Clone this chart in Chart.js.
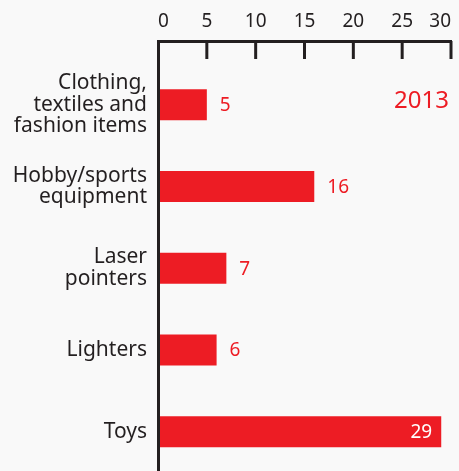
<!DOCTYPE html>
<html>
<head>
<meta charset="utf-8">
<script src="https://cdn.jsdelivr.net/npm/chart.js@4"></script>
<style>
  html, body { margin: 0; padding: 0; background: #f9f9f9; overflow: hidden; }
  canvas { display: block; }
</style>
</head>
<body>
<canvas id="chart" width="459" height="471"></canvas>
<script>
// Seized goods by category
const categories = [
  ['Clothing,', 'textiles and', 'fashion items'],
  ['Hobby/sports', 'equipment'],
  ['Laser', 'pointers'],
  ['Lighters'],
  ['Toys']
];
const counts = [5, 16, 7, 6, 29];
const xTicks = [0, 5, 10, 15, 20, 25, 30];
const yearLabel = '2013';

const RED = '#ed1c24';
const INK = '#231f20';
const FONT = "'Noto Sans', sans-serif";

// Inward tick marks on the top axis, value labels and the year tag
const annotate = {
  id: 'annotate',
  afterDatasetsDraw(chart) {
    const { ctx, chartArea, scales } = chart;
    ctx.save();

    ctx.strokeStyle = INK;
    ctx.lineWidth = 3;
    scales.x.ticks.forEach(t => {
      if (t.value <= 0) return;
      const x = scales.x.getPixelForValue(t.value);
      ctx.beginPath();
      ctx.moveTo(x, chartArea.top);
      ctx.lineTo(x, chartArea.top + 18);
      ctx.stroke();
    });

    ctx.font = `19px ${FONT}`;
    ctx.textBaseline = 'middle';
    chart.getDatasetMeta(0).data.forEach((bar, i) => {
      const text = String(counts[i]);
      const w = ctx.measureText(text).width;
      const inside = bar.x + 12 + w > chartArea.right;
      ctx.fillStyle = inside ? '#ffffff' : RED;
      ctx.textAlign = inside ? 'right' : 'left';
      ctx.fillText(text, inside ? bar.x - 9 : bar.x + 13, bar.y + 1);
    });

    ctx.font = `24px ${FONT}`;
    ctx.fillStyle = RED;
    ctx.textAlign = 'right';
    ctx.fillText(yearLabel, chartArea.right - 2, scales.y.getPixelForValue(0) - 4);

    ctx.restore();
  }
};

new Chart(document.getElementById('chart'), {
  type: 'bar',
  data: {
    datasets: [{
      data: counts.map((v, i) => ({ x: v, y: i })),
      backgroundColor: RED,
      barPercentage: 0.38,
      categoryPercentage: 1
    }]
  },
  options: {
    indexAxis: 'y',
    responsive: false,
    animation: false,
    layout: { padding: { top: 0, right: 3, bottom: 0, left: 0 } },
    plugins: { legend: { display: false }, tooltip: { enabled: false } },
    scales: {
      x: {
        position: 'top',
        min: 0,
        max: 30,
        afterBuildTicks: axis => { axis.ticks = xTicks.map(v => ({ value: v })); },
        afterFit: axis => { axis.height = 41; },
        grid: { drawOnChartArea: false, drawTicks: false },
        border: { display: true, color: INK, width: 3, z: 1 },
        ticks: {
          align: 'inner',
          padding: 8,
          color: INK,
          font: { family: FONT, size: 19 }
        }
      },
      y: {
        type: 'linear',
        reverse: true,
        offset: false,
        min: -0.78,
        max: 4.48,
        afterBuildTicks: axis => { axis.ticks = categories.map((c, i) => ({ value: i })); },
        // category labels sit well inside the axis range, so no edge padding is needed
        afterFit: axis => {
          axis.width = 158;
          axis.paddingTop = 0;
          axis.paddingBottom = 0;
        },
        grid: { drawOnChartArea: false, drawTicks: false },
        border: { display: true, color: INK, width: 3, z: 1 },
        ticks: {
          padding: 11,
          color: INK,
          font: { family: FONT, size: 21, lineHeight: 1.03 },
          callback: v => categories[v]
        }
      }
    }
  },
  plugins: [annotate]
});
</script>
</body>
</html>
